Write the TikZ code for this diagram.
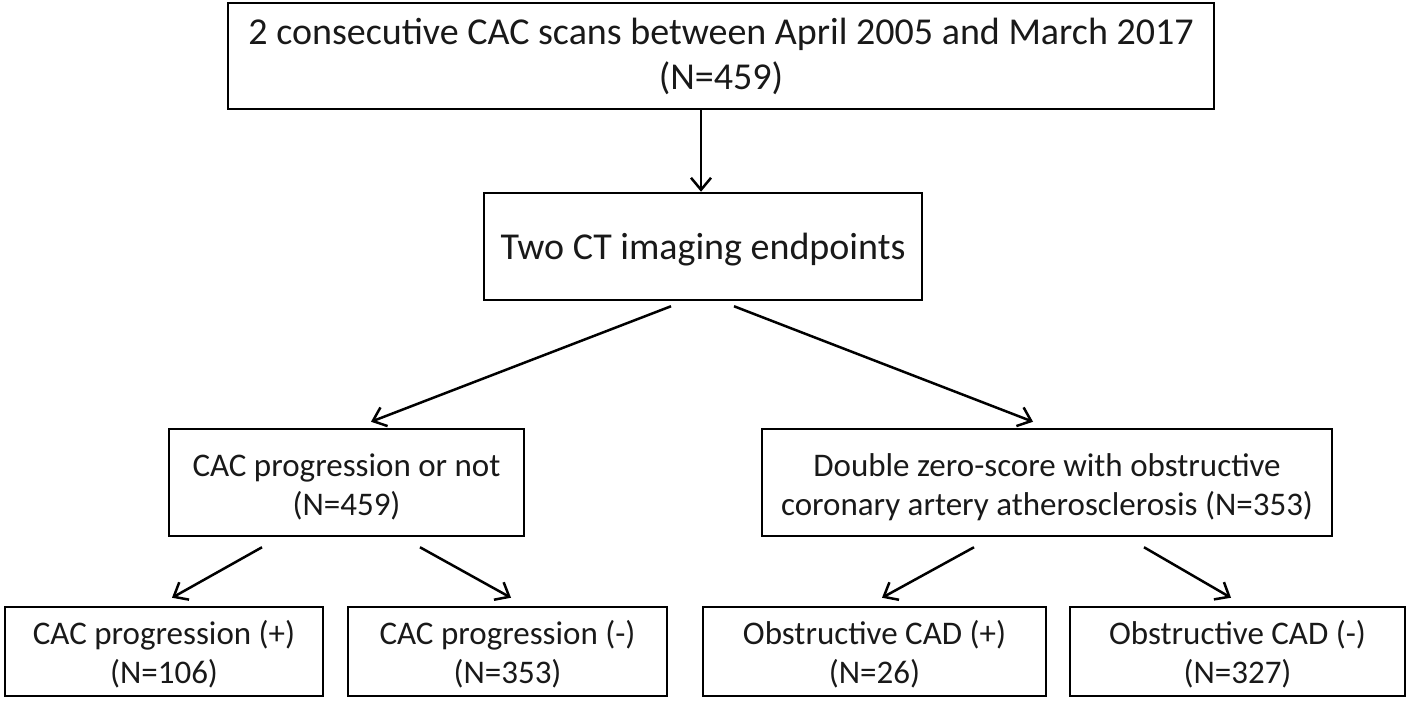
\documentclass[tikz,border=0pt]{standalone}
\usepackage{fontspec}
\setmainfont{Carlito}
\usetikzlibrary{arrows.meta}
\newcommand{\lowtext}[2]{\raisebox{-#1}[\height][\depth]{\begin{tabular}{@{}c@{}}#2\end{tabular}}}
\tikzset{
  box/.style={draw=black, line width=2.5pt, inner sep=0pt, align=center, text=black!90},
  big/.style={font=\fontsize{38}{45}\selectfont},
  small/.style={font=\fontsize{33}{39}\selectfont},
  arr/.style={draw=black, line width=2.5pt, -{Straight Barb[length=12pt,width=20pt,line width=2.5pt]}},
}
\begin{document}
\begin{tikzpicture}[x=1pt,y=-1pt]
\useasboundingbox (0,0) rectangle (1418,701);
\node[box,big,minimum width=986pt,minimum height=106pt] (top) at (721,56)
  {\lowtext{2.5pt}{2 consecutive CAC scans between April 2005 and March 2017\\(N=459)}};
\node[box,big,minimum width=438pt,minimum height=107pt] (b2) at (703,246.5)
  {\lowtext{4pt}{Two CT imaging endpoints}};
\node[box,small,minimum width=355pt,minimum height=107pt] (ml) at (346.5,482.5)
  {\lowtext{5.5pt}{CAC progression or not\\(N=459)}};
\node[box,small,minimum width=570pt,minimum height=107pt] (mr) at (1047,482.5)
  {\lowtext{5.5pt}{Double zero-score with obstructive\\coronary artery atherosclerosis (N=353)}};
\node[box,small,minimum width=318pt,minimum height=89pt] (bl1) at (164,651.5)
  {\lowtext{5pt}{CAC progression (+)\\(N=106)}};
\node[box,small,minimum width=319pt,minimum height=89pt] (bl2) at (507.5,651.5)
  {\lowtext{5pt}{CAC progression (-)\\(N=353)}};
\node[box,small,minimum width=343pt,minimum height=89pt] (br1) at (874.5,651.5)
  {\lowtext{5pt}{Obstructive CAD (+)\\(N=26)}};
\node[box,small,minimum width=335pt,minimum height=89pt] (br2) at (1237.5,651.5)
  {\lowtext{5pt}{Obstructive CAD (-)\\(N=327)}};

\draw[arr] ([xshift=-20pt]top.south) -- ([xshift=-20pt]top.south |- b2.north);
\draw[arr] ([xshift=-32pt,yshift=-5pt]b2.south) -- ([xshift=24.5pt,yshift=6pt]ml.north);
\draw[arr] ([xshift=31pt,yshift=-5pt]b2.south) -- ([xshift=-14pt,yshift=6pt]mr.north);
\draw[arr] ([xshift=-84.5pt,yshift=-10pt]ml.south) -- ([xshift=8pt,yshift=8pt]bl1.north);
\draw[arr] ([xshift=73.5pt,yshift=-10pt]ml.south) -- ([xshift=3.5pt,yshift=8pt]bl2.north);
\draw[arr] ([xshift=-73pt,yshift=-10pt]mr.south) -- ([xshift=7.5pt,yshift=8pt]br1.north);
\draw[arr] ([xshift=97pt,yshift=-10pt]mr.south) -- ([xshift=-6.5pt,yshift=8pt]br2.north);
\end{tikzpicture}
\end{document}
